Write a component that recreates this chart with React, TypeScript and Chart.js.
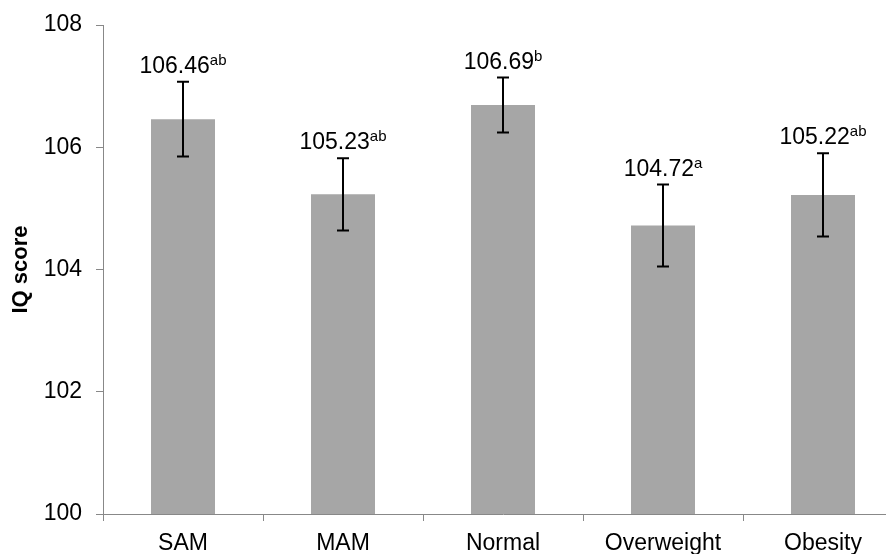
import React, { useEffect, useRef } from "react";
import { Chart, registerables } from "chart.js";

Chart.register(...registerables);

const categories = ["SAM", "MAM", "Normal", "Overweight", "Obesity"];
const means = [106.46, 105.23, 106.69, 104.72, 105.22];
const errors = [0.61, 0.59, 0.45, 0.67, 0.68];
const letters = ["ab", "ab", "b", "a", "ab"];
const yMin = 100;
const yMax = 108;
const yStep = 2;
const yTitle = "IQ score";

const FONT = "'Liberation Sans', Arial, sans-serif";
const FS = 23;

const errorBarPlugin = {
  id: "errorBars",
  afterDatasetsDraw(chart: any) {
    const ctx = chart.ctx;
    const meta = chart.getDatasetMeta(0);
    const y = chart.scales.y;
    ctx.save();
    meta.data.forEach((bar: any, i: number) => {
      const x = bar.x;
      const top = y.getPixelForValue(means[i] + errors[i]);
      const bot = y.getPixelForValue(means[i] - errors[i]);
      ctx.strokeStyle = "#000";
      ctx.lineWidth = 2;
      ctx.beginPath();
      ctx.moveTo(x, top);
      ctx.lineTo(x, bot);
      ctx.moveTo(x - 6, top);
      ctx.lineTo(x + 6, top);
      ctx.moveTo(x - 6, bot);
      ctx.lineTo(x + 6, bot);
      ctx.stroke();

      const main = means[i].toFixed(2);
      const sup = letters[i];
      ctx.font = `${FS}px ${FONT}`;
      const wMain = ctx.measureText(main).width;
      ctx.font = `15px ${FONT}`;
      const wSup = ctx.measureText(sup).width;
      const start = x - (wMain + wSup) / 2;
      const base = top - 9;
      ctx.fillStyle = "#000";
      ctx.textAlign = "left";
      ctx.textBaseline = "alphabetic";
      ctx.font = `${FS}px ${FONT}`;
      ctx.fillText(main, start, base);
      ctx.font = `15px ${FONT}`;
      ctx.fillText(sup, start + wMain, base - 8);
    });
    ctx.restore();
  },
};

export default function App() {
  const ref = useRef<HTMLCanvasElement | null>(null);
  useEffect(() => {
    document.documentElement.style.overflow = "hidden";
    document.body.style.overflow = "hidden";
    if (!ref.current) return;
    const chart = new Chart(ref.current, {
      type: "bar",
      data: {
        labels: categories,
        datasets: [
          {
            data: means,
            backgroundColor: "#A6A6A6",
            borderWidth: 0,
            categoryPercentage: 1,
            barPercentage: 0.4,
          },
        ],
      },
      options: {
        animation: false,
        responsive: true,
        maintainAspectRatio: false,
        layout: { padding: { top: 17, right: 1, left: 0, bottom: 0 } },
        plugins: {
          legend: { display: false },
          tooltip: { enabled: false },
        },
        scales: {
          x: {
            grid: {
              drawOnChartArea: false,
              drawTicks: true,
              tickLength: 7,
              color: "#888",
            },
            border: { color: "#888", width: 1 },
            ticks: {
              color: "#000",
              padding: 9,
              font: { family: FONT, size: FS },
            },
            afterFit: (s: any) => {
              s.height = 40;
              s.paddingLeft = 0;
              s.paddingRight = 0;
            },
          },
          y: {
            min: yMin,
            max: yMax,
            grid: {
              drawOnChartArea: false,
              drawTicks: true,
              tickLength: 7,
              color: "#888",
            },
            border: { color: "#888", width: 1 },
            ticks: {
              stepSize: yStep,
              color: "#000",
              padding: 14,
              font: { family: FONT, size: FS },
            },
            title: {
              display: true,
              text: yTitle,
              color: "#000",
              padding: { top: 0, bottom: 0 },
              font: { family: FONT, size: 22, weight: "bold" },
            },
            afterFit: (s: any) => {
              s.width = 95;
              s.paddingTop = 0;
              s.paddingBottom = 0;
            },
          },
        },
      },
      plugins: [errorBarPlugin],
    });
    return () => chart.destroy();
  }, []);
  return (
    <div style={{ width: 886, height: 546, overflow: "hidden" }}>
      <div style={{ width: 896, height: 546, position: "relative" }}>
        <canvas ref={ref} />
      </div>
    </div>
  );
}
